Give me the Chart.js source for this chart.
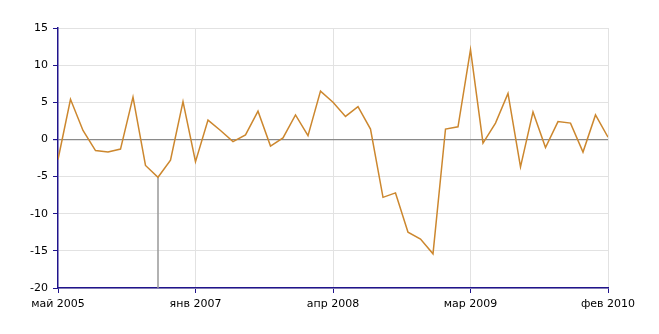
<!DOCTYPE html>
<html>
<head>
<meta charset="utf-8">
<script src="https://cdn.jsdelivr.net/npm/chart.js@4/dist/chart.umd.min.js"></script>
<style>
  html, body { margin: 0; padding: 0; background: #fff; }
  #wrap { width: 659px; height: 334px; }
</style>
</head>
<body>
<div id="wrap"><canvas id="chart"></canvas></div>
<script>
// values, one per period (45 periods)
const values = [
  -2.7, 5.4, 1.2, -1.5, -1.7, -1.3, 5.7, -3.5, -5.1, -2.8,
  5.1, -3.0, 2.6, 1.2, -0.3, 0.6, 3.8, -0.9, 0.2, 3.3,
  0.5, 6.5, 5.0, 3.1, 4.4, 1.4, -7.8, -7.2, -12.5, -13.4,
  -15.4, 1.4, 1.7, 12.1, -0.5, 2.2, 6.2, -3.7, 3.7, -1.1,
  2.4, 2.2, -1.7, 3.3, 0.3
];

// x tick labels and the period index each one sits at
const tickLabels = ['май 2005', 'янв 2007', 'апр 2008', 'мар 2009', 'фев 2010'];
const tickIndex = [0, 11, 22, 33, 44];

// highlighted period (gray drop line down to the axis)
const markIndex = 8;

const yMin = -20, yMax = 15;

const navy = '#20148c';
const font = { family: 'DejaVu Sans', size: 11 };

const mainLine = values.map((v, i) => ({ x: i, y: v }));
const dropLine = [{ x: markIndex, y: yMin }, { x: markIndex, y: values[markIndex] }];

new Chart(document.getElementById('chart').getContext('2d'), {
  type: 'line',
  data: {
    datasets: [
      {
        data: mainLine,
        borderColor: '#cc872e',
        borderWidth: 1.5,
        pointRadius: 0,
        tension: 0,
        order: 1
      },
      {
        data: dropLine,
        borderColor: '#999999',
        borderWidth: 1.5,
        pointRadius: 0,
        order: 2
      }
    ]
  },
  options: {
    responsive: true,
    maintainAspectRatio: false,
    animation: false,
    layout: { padding: { top: 28, right: 51, left: 0, bottom: 0 } },
    plugins: {
      legend: { display: false },
      tooltip: { enabled: false }
    },
    scales: {
      x: {
        type: 'linear',
        min: 0,
        max: values.length - 1,
        afterBuildTicks: scale => {
          scale.ticks = tickIndex.map(v => ({ value: v }));
        },
        afterFit: scale => { scale.height = 46; },
        ticks: {
          color: '#000',
          font: font,
          padding: 5,
          maxRotation: 0,
          autoSkip: false,
          callback: v => tickLabels[tickIndex.indexOf(v)]
        },
        grid: {
          color: ctx => ctx.tick && ctx.tick.value === 0 ? 'rgba(0,0,0,0)' : '#e2e2e2',
          tickColor: navy,
          tickLength: 5,
          lineWidth: 1
        },
        border: { color: navy, width: 1.5 }
      },
      y: {
        min: yMin,
        max: yMax,
        afterFit: scale => { scale.width = 58; },
        ticks: {
          stepSize: 5,
          color: '#000',
          font: font,
          padding: 5
        },
        grid: {
          color: ctx => ctx.tick && ctx.tick.value === 0 ? '#8a8a8a' : '#e2e2e2',
          tickColor: navy,
          tickLength: 5,
          lineWidth: ctx => ctx.tick && ctx.tick.value === 0 ? 1.2 : 1
        },
        border: { color: navy, width: 1.5 }
      }
    }
  }
});
</script>
</body>
</html>
